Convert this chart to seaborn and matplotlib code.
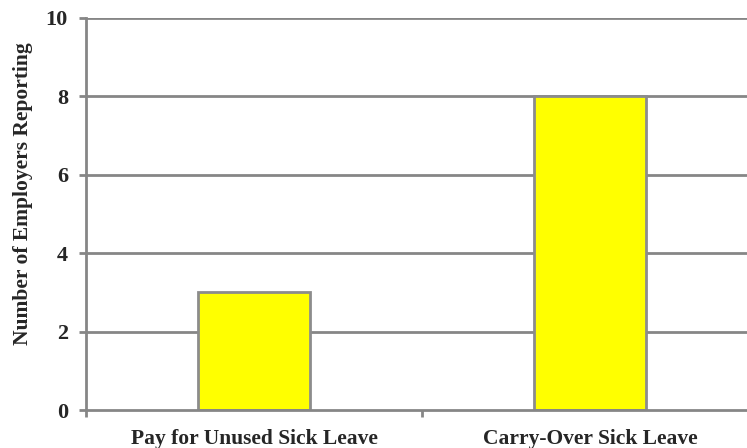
import pandas as pd
import numpy as np
import matplotlib
matplotlib.use('Agg')
import matplotlib.pyplot as plt
import seaborn as sns

# Data
categories = ['Pay for Unused Sick Leave', 'Carry-Over Sick Leave']
employers = [3, 8]
yticks = [0, 2, 4, 6, 8, 10]

df = pd.DataFrame({'category': categories, 'count': employers})

sns.set_style('white')
plt.rcParams['font.family'] = ['Liberation Serif', 'DejaVu Serif']
plt.rcParams['font.weight'] = 'bold'

fig = plt.figure(figsize=(7.47, 4.48), dpi=100)
ax = fig.add_axes([86 / 747, 38 / 448, 672 / 747, 392 / 448])

grid_col = '#868686'
ax.set_axisbelow(True)
for t in yticks[1:]:
    ax.axhline(t, color=grid_col, lw=2, zorder=0)

sns.barplot(data=df, x='category', y='count', color='#ffff00', width=1 / 3,
            edgecolor='#8c8c8c', linewidth=2, saturation=1, ax=ax, zorder=2)

ax.set_xlim(-0.5, 1.5)
ax.set_ylim(0, 10)
ax.set_yticks(yticks)
ax.set_yticklabels([str(t) for t in yticks], fontsize=16, fontweight='bold')

# category labels centered, tick marks at category boundaries
ax.set_xticks([0, 1])
ax.set_xticklabels(categories, fontsize=15.5, fontweight='bold')
ax.tick_params(axis='x', which='major', bottom=True, length=0, pad=14)
ax.set_xticks([-0.5, 0.5, 1.5], minor=True)
ax.tick_params(axis='x', which='minor', bottom=True, length=5, width=2,
               color=grid_col, direction='out')
ax.tick_params(axis='y', left=True, length=5, width=2, color=grid_col,
               direction='out', pad=8)

ax.set_xlabel('')
ax.set_ylabel('Number of Employers Reporting', fontsize=15.5, fontweight='bold')
ax.yaxis.set_label_coords(-0.079, 0.553)

for s in ['top', 'right']:
    ax.spines[s].set_visible(False)
for s in ['left', 'bottom']:
    ax.spines[s].set_color(grid_col)
    ax.spines[s].set_linewidth(2)

fig.savefig('out.png', dpi=100)
